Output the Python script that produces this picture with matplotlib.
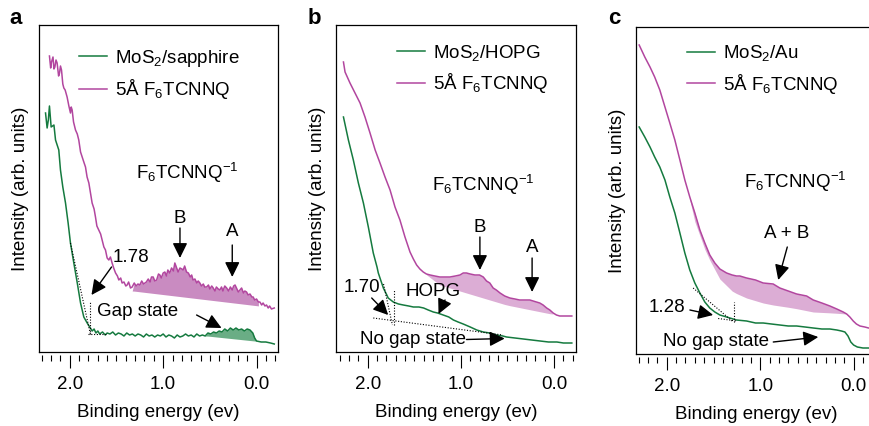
import numpy as np
import matplotlib
matplotlib.use("Agg")
import matplotlib.pyplot as plt
from matplotlib.ticker import FixedLocator, MultipleLocator

plt.rcParams['font.family'] = ['Liberation Sans', 'DejaVu Sans']
plt.rcParams['mathtext.fontset'] = 'custom'
plt.rcParams['mathtext.rm'] = 'Liberation Sans'
plt.rcParams['mathtext.it'] = 'Liberation Sans:italic'
plt.rcParams['mathtext.bf'] = 'Liberation Sans:bold'
plt.rcParams['mathtext.default'] = 'regular'
plt.rcParams['font.size'] = 13.5

GREEN = '#157a3f'
MAGENTA = '#b2469f'

# (binding energy eV, intensity arb.)
a_green = np.array([
    (2.26, 239), (2.243, 224), (2.23, 232), (2.218, 246), (2.20, 225), (2.17, 227), (2.153, 212),
    (2.118, 202), (2.10, 182), (2.075, 165), (2.046, 149), (2.018, 129), (1.993, 109), (1.957, 89),
    (1.92, 69), (1.885, 49), (1.85, 35), (1.814, 29), (1.78, 24), (1.76, 21), (1.74, 23), (1.72, 19),
    (1.70, 21), (1.68, 18), (1.65, 20), (1.62, 17), (1.60, 19), (1.57, 18), (1.54, 20), (1.51, 17),
    (1.48, 19), (1.45, 18), (1.42, 16), (1.39, 19), (1.36, 17), (1.33, 18), (1.30, 16), (1.27, 18),
    (1.24, 17), (1.21, 15), (1.18, 18), (1.15, 16), (1.12, 17), (1.09, 15), (1.06, 17), (1.03, 16),
    (1.00, 18), (0.97, 15), (0.94, 17), (0.91, 16), (0.88, 14), (0.85, 17), (0.82, 15), (0.79, 16),
    (0.76, 18), (0.73, 16), (0.70, 17), (0.67, 15), (0.64, 18), (0.61, 16), (0.58, 17), (0.55, 16),
    (0.52, 19), (0.49, 18), (0.46, 20), (0.43, 19), (0.40, 21), (0.37, 20), (0.34, 23), (0.31, 21),
    (0.28, 24), (0.25, 22), (0.22, 24), (0.19, 22), (0.16, 23), (0.13, 21), (0.10, 23), (0.07, 22),
    (0.04, 19), (0.02, 14), (0.0, 11), (-0.05, 10), (-0.10, 10), (-0.15, 9), (-0.19, 8),
])
a_magenta = np.array([
    (2.218, 296), (2.205, 284), (2.196, 290), (2.18, 295), (2.17, 283), (2.16, 285), (2.148, 292),
    (2.136, 289), (2.12, 276), (2.11, 279), (2.10, 286), (2.089, 282), (2.075, 268), (2.064, 264),
    (2.05, 262), (2.029, 255), (2.01, 246), (1.993, 239), (1.985, 245), (1.975, 242), (1.96, 230),
    (1.939, 222), (1.92, 218), (1.904, 212), (1.885, 200), (1.868, 195), (1.85, 190), (1.832, 185),
    (1.815, 175), (1.796, 169), (1.78, 160), (1.761, 149), (1.74, 143), (1.725, 135), (1.71, 126),
    (1.69, 122), (1.67, 118), (1.654, 112), (1.635, 105), (1.618, 102), (1.60, 94), (1.582, 92),
    (1.565, 95), (1.547, 89), (1.53, 84), (1.51, 79), (1.49, 76), (1.475, 72), (1.455, 74), (1.44, 69),
    (1.42, 70), (1.40, 66), (1.386, 67), (1.37, 70), (1.35, 64), (1.332, 65), (1.31, 69), (1.29, 66),
    (1.27, 68), (1.25, 67), (1.23, 71), (1.21, 68), (1.18, 70), (1.16, 73), (1.14, 70), (1.125, 75),
    (1.107, 75), (1.09, 71), (1.07, 72), (1.05, 78), (1.035, 77), (1.02, 74), (1.00, 79), (0.982, 80),
    (0.965, 76), (0.95, 82), (0.93, 79), (0.91, 84), (0.89, 81), (0.875, 89), (0.86, 85), (0.84, 80),
    (0.82, 84), (0.80, 83), (0.786, 82), (0.77, 86), (0.75, 80), (0.73, 79), (0.71, 75), (0.695, 77),
    (0.68, 72), (0.66, 73), (0.64, 69), (0.625, 71), (0.607, 69), (0.59, 66), (0.57, 68), (0.555, 65),
    (0.535, 65), (0.515, 67), (0.50, 63), (0.48, 66), (0.464, 64), (0.445, 61), (0.43, 65), (0.41, 63),
    (0.393, 62), (0.375, 65), (0.36, 61), (0.34, 66), (0.32, 64), (0.30, 61), (0.28, 65), (0.26, 62),
    (0.245, 66), (0.23, 67), (0.21, 63), (0.195, 60), (0.178, 62), (0.16, 64), (0.14, 59), (0.125, 61),
    (0.107, 60), (0.09, 57), (0.07, 58), (0.05, 55), (0.036, 55), (0.02, 52), (0.0, 53), (-0.02, 50),
    (-0.036, 50), (-0.055, 47), (-0.07, 49), (-0.09, 46), (-0.107, 47), (-0.125, 44), (-0.14, 46),
    (-0.16, 43), (-0.19, 44),
])
a_magenta_base = np.array([(1.32, 61), (-0.03, 46)])
a_green_base = np.array([(0.53, 16), (0.02, 11)])

b_green = np.array([
    (2.26, 235), (2.207, 212), (2.154, 192), (2.10, 169), (2.046, 149), (1.993, 125), (1.94, 99),
    (1.90, 85), (1.886, 79), (1.832, 64), (1.80, 58), (1.78, 54), (1.725, 50), (1.67, 48), (1.618, 47),
    (1.56, 46), (1.51, 45), (1.45, 45), (1.40, 44), (1.35, 42), (1.296, 40), (1.25, 39), (1.19, 37),
    (1.13, 35), (1.08, 32), (1.03, 30), (0.975, 28), (0.90, 25), (0.83, 22), (0.76, 20), (0.69, 19),
    (0.62, 17), (0.55, 16), (0.51, 15), (0.42, 14), (0.33, 13), (0.24, 12), (0.15, 11), (0.06, 10),
    (-0.03, 10), (-0.10, 9), (-0.19, 9),
])
b_magenta = np.array([
    (2.26, 290), (2.243, 280), (2.19, 269), (2.136, 259), (2.082, 249), (2.029, 235), (1.975, 219),
    (1.92, 202), (1.868, 189), (1.814, 175), (1.76, 162), (1.707, 145), (1.654, 132), (1.60, 115),
    (1.546, 100), (1.51, 93), (1.475, 87), (1.44, 83), (1.404, 80), (1.37, 78), (1.33, 77), (1.28, 76),
    (1.225, 75), (1.17, 75), (1.118, 75), (1.06, 76), (1.01, 77), (0.975, 79), (0.94, 79), (0.90, 78),
    (0.85, 77), (0.80, 77), (0.76, 75), (0.725, 71), (0.69, 69), (0.654, 64), (0.62, 62), (0.58, 59),
    (0.53, 56), (0.475, 54), (0.42, 53), (0.37, 52), (0.30, 52), (0.26, 52), (0.19, 50), (0.154, 49),
    (0.118, 47), (0.08, 44), (0.046, 42), (0.01, 39), (-0.025, 37), (-0.06, 36), (-0.096, 36),
    (-0.14, 36), (-0.19, 36),
])
b_magenta_base = np.array([(1.38, 78), (1.225, 67), (0.868, 57), (0.51, 47), (0.03, 38)])

c_green = np.array([
    (2.296, 227), (2.236, 217), (2.18, 207), (2.13, 197), (2.075, 187), (2.02, 174), (1.968, 157),
    (1.914, 141), (1.86, 121), (1.807, 101), (1.754, 84), (1.70, 71), (1.646, 61), (1.593, 52),
    (1.54, 46), (1.486, 42), (1.432, 39), (1.36, 37), (1.254, 34), (1.146, 33), (1.05, 31), (0.968, 31),
    (0.88, 30), (0.79, 29), (0.70, 28), (0.61, 28), (0.52, 27), (0.432, 26), (0.34, 25), (0.254, 25),
    (0.18, 24), (0.13, 23), (0.093, 22), (0.06, 18), (0.03, 12), (0.0, 9), (-0.04, 7), (-0.10, 6),
    (-0.16, 6), (-0.24, 5),
])
c_magenta = np.array([
    (2.296, 309), (2.236, 297), (2.18, 287), (2.13, 277), (2.075, 264), (2.02, 247), (1.968, 231),
    (1.914, 214), (1.86, 194), (1.807, 174), (1.754, 157), (1.70, 141), (1.646, 124), (1.593, 111),
    (1.54, 99), (1.486, 91), (1.432, 85), (1.36, 81), (1.30, 79), (1.254, 78), (1.218, 78),
    (1.146, 76), (1.05, 74), (0.968, 71), (0.861, 70), (0.79, 66), (0.70, 63), (0.61, 60), (0.503, 58),
    (0.432, 54), (0.34, 51), (0.254, 48), (0.18, 45), (0.111, 42), (0.074, 40), (0.04, 37), (0.004, 33),
    (-0.03, 30), (-0.068, 28), (-0.12, 27), (-0.16, 26), (-0.24, 26),
])
c_magenta_base = np.array([
    (1.76, 157), (1.718, 137), (1.575, 100), (1.432, 75), (1.29, 62), (1.146, 56), (0.932, 50),
    (0.646, 46), (0.432, 42), (0.218, 41), (0.075, 40),
])

substrates = ['MoS$_2$/sapphire', 'MoS$_2$/HOPG', 'MoS$_2$/Au']
dopant_label = '5Å F$_6$TCNNQ'
anion_label = 'F$_6$TCNNQ$^{-1}$'
tick_values = [2.0, 1.0, 0.0]
tick_labels = ['2.0', '1.0', '0.0']


def arrow(ax, start, tip):
    """Black arrow with a filled head, in data coordinates"""
    ax.annotate('', xy=tip, xytext=start,
                arrowprops=dict(arrowstyle='-|>,head_length=0.65,head_width=0.32', color='k',
                                lw=1.0, mutation_scale=14, shrinkA=0, shrinkB=0))


def dotted(ax, xs, ys):
    ax.plot(xs, ys, color='k', lw=0.8, ls=(0, (1, 1.5)))


def fill_peak(ax, curve, base, color):
    """Shade the area between a spectrum and its background line"""
    e, y = curve[:, 0], curve[:, 1]
    b = np.interp(e, base[::-1, 0], base[::-1, 1])
    inside = (e <= base[:, 0].max()) & (e >= base[:, 0].min())
    ax.fill_between(e, b, y, where=inside & (y >= b), interpolate=True, color=color, lw=0, zorder=1)


def setup_axes(ax, xlim, legend_xy):
    ax.set_xlim(*xlim)
    ax.set_ylim(0, 327)
    ax.set_yticks([])
    ax.xaxis.set_major_locator(FixedLocator(tick_values))
    ax.set_xticklabels(tick_labels)
    ax.xaxis.set_minor_locator(MultipleLocator(0.1))
    ax.tick_params(axis='x', which='major', direction='out', length=9.5, width=0.8, pad=5)
    ax.tick_params(axis='x', which='minor', direction='out', length=4.5, width=0.8)
    for s in ('top', 'left', 'right'):
        ax.spines[s].set_linewidth(0.9)
    ax.spines['bottom'].set_position(('outward', 2.5))
    ax.spines['bottom'].set_visible(False)
    ax.plot([0, 1], [0, 0], transform=ax.transAxes, color='k', lw=0.9, clip_on=False)
    ax.set_xlabel('Binding energy (ev)', labelpad=8)
    ax.set_ylabel('Intensity (arb. units)', labelpad=7)
    ax.legend(loc='upper left', bbox_to_anchor=legend_xy, frameon=False, handlelength=1.5,
              handletextpad=0.4, labelspacing=0.45, borderaxespad=0, borderpad=0)


fig = plt.figure(figsize=(8.69, 4.26), dpi=100)
ax_a = fig.add_axes([39 / 869, 1 - 352 / 426, 239 / 869, 327 / 426])
ax_b = fig.add_axes([336 / 869, 1 - 352 / 426, 240 / 869, 327 / 426])
ax_c = fig.add_axes([636 / 869, 1 - 354 / 426, 240 / 869, 327 / 426])

# panel a
fill_peak(ax_a, a_magenta, a_magenta_base, '#c98bc1')
fill_peak(ax_a, a_green, a_green_base, '#6aad85')
ax_a.plot(a_green[:, 0], a_green[:, 1], color=GREEN, lw=1.1, label=substrates[0])
ax_a.plot(a_magenta[:, 0], a_magenta[:, 1], color=MAGENTA, lw=1.1, label=dopant_label)
dotted(ax_a, [1.993, 1.78], [109, 18])
dotted(ax_a, [1.78, 1.78], [18, 50])
dotted(ax_a, [1.80, 1.61], [18, 18])
ax_a.text(0.745, 179, anion_label, ha='center', va='center')
ax_a.text(0.82, 134, 'B', ha='center', va='center')
arrow(ax_a, (0.82, 124), (0.82, 94))
ax_a.text(0.26, 121, 'A', ha='center', va='center')
arrow(ax_a, (0.26, 107), (0.26, 75))
ax_a.text(1.54, 95, '1.78', ha='left', va='center')
arrow(ax_a, (1.553, 85), (1.768, 57))
ax_a.text(1.714, 40, 'Gap state', ha='left', va='center')
arrow(ax_a, (0.642, 37), (0.375, 24))
setup_axes(ax_a, (2.33, -0.23), (0.167, 0.93))

# panel b
fill_peak(ax_b, b_magenta, b_magenta_base, '#dcadd5')
ax_b.plot(b_green[:, 0], b_green[:, 1], color=GREEN, lw=1.1, label=substrates[1])
ax_b.plot(b_magenta[:, 0], b_magenta[:, 1], color=MAGENTA, lw=1.1, label=dopant_label)
dotted(ax_b, [1.94, 0.55], [34, 17])
dotted(ax_b, [1.715, 1.715], [27, 62])
dotted(ax_b, [1.83, 1.735], [68, 27])
ax_b.text(0.754, 167, anion_label, ha='center', va='center')
ax_b.text(0.796, 125, 'B', ha='center', va='center')
arrow(ax_b, (0.796, 115), (0.796, 82))
ax_b.text(0.236, 105, 'A', ha='center', va='center')
arrow(ax_b, (0.236, 94), (0.236, 60))
ax_b.text(2.26, 65, '1.70', ha='left', va='center')
arrow(ax_b, (1.957, 54), (1.78, 37))
ax_b.text(1.297, 60, 'HOPG', ha='center', va='center')
arrow(ax_b, (1.17, 52), (1.24, 38))
ax_b.text(2.08, 12, 'No gap state', ha='left', va='center')
arrow(ax_b, (0.94, 12.5), (0.53, 13.5))
setup_axes(ax_b, (2.34, -0.235), (0.254, 0.945))

# panel c
fill_peak(ax_c, c_magenta, c_magenta_base, '#dcadd5')
ax_c.plot(c_green[:, 0], c_green[:, 1], color=GREEN, lw=1.1, label=substrates[2])
ax_c.plot(c_magenta[:, 0], c_magenta[:, 1], color=MAGENTA, lw=1.1, label=dopant_label)
dotted(ax_c, [1.718, 1.30], [66, 33])
dotted(ax_c, [1.45, 1.25], [35.5, 33])
dotted(ax_c, [1.28, 1.28], [32, 52])
ax_c.text(0.623, 172, anion_label, ha='center', va='center')
ax_c.text(0.717, 121, 'A + B', ha='center', va='center')
arrow(ax_c, (0.71, 107), (0.807, 74))
ax_c.text(2.2, 46, '1.28', ha='left', va='center')
arrow(ax_c, (1.753, 44), (1.504, 39))
ax_c.text(2.04, 12, 'No gap state', ha='left', va='center')
arrow(ax_c, (0.86, 12), (0.378, 17))
setup_axes(ax_c, (2.33, -0.24), (0.2125, 0.95))

# panel letters
for letter, x in zip('abc', (16, 314, 614)):
    fig.text(x / 869, 1 - 19 / 426, letter, fontsize=16, fontweight='bold', ha='center', va='center')

fig.savefig('out.png', dpi=100)
